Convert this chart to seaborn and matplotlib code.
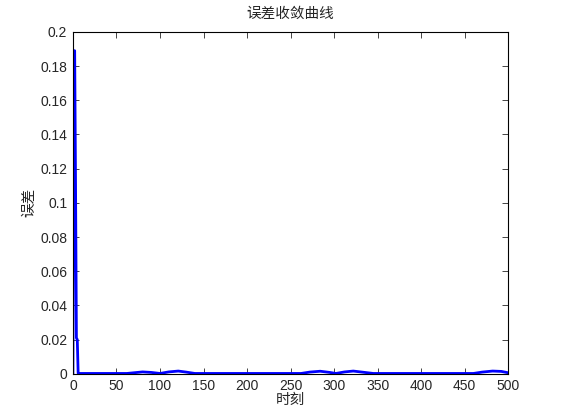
import matplotlib
matplotlib.use("Agg")
import matplotlib.pyplot as plt
import seaborn as sns
import pandas as pd

# sampled error curve (time step, error)
t_vals = [0, 1, 2, 3, 4, 5, 6, 8, 62, 70, 80, 90, 100, 110, 121, 130, 140,
          262, 272, 284, 295, 302, 312, 322, 332, 345,
          460, 470, 482, 492, 500]
e_vals = [0.0, 0.189, 0.189, 0.111, 0.021, 0.020, 0.0003, 0.0002,
          0.0002, 0.0006, 0.0011, 0.0008, 0.0002, 0.0011, 0.0016, 0.0010, 0.0002,
          0.0002, 0.0010, 0.0015, 0.0008, 0.0002, 0.0011, 0.0016, 0.0010, 0.0002,
          0.0002, 0.0010, 0.0016, 0.0014, 0.0006]
x_ticks = [0, 50, 100, 150, 200, 250, 300, 350, 400, 450, 500]
y_ticks = [0, 0.02, 0.04, 0.06, 0.08, 0.1, 0.12, 0.14, 0.16, 0.18, 0.2]
y_tick_labels = ["0", "0.02", "0.04", "0.06", "0.08", "0.1", "0.12", "0.14", "0.16", "0.18", "0.2"]
title = "误差收敛曲线"
x_label = "时刻"
y_label = "误差"

sns.set_style("ticks")
plt.rcParams['font.family'] = ['Liberation Sans', 'Noto Sans CJK SC', 'DejaVu Sans']

df = pd.DataFrame({"t": t_vals, "e": e_vals})

fig = plt.figure(figsize=(5.61, 4.20), dpi=100)
ax = fig.add_axes([0.130, 0.110, 0.776, 0.814])
sns.lineplot(data=df, x="t", y="e", ax=ax, color="#0000ff", linewidth=2.0)

ax.set_xlim(0, 500)
ax.set_ylim(0, 0.2)
ax.set_xticks(x_ticks)
ax.set_yticks(y_ticks)
ax.set_yticklabels(y_tick_labels)
ax.tick_params(direction="in", top=True, right=True, length=4, width=0.6,
               labelsize=10, pad=4)
for s in ax.spines.values():
    s.set_visible(True)
    s.set_linewidth(0.8)
    s.set_color("black")

ax.set_title(title, fontsize=10.5, family=['Noto Sans CJK SC'], pad=10)
ax.set_xlabel(x_label, fontsize=10.5, family=['Noto Sans CJK SC'], labelpad=0)
ax.set_ylabel(y_label, fontsize=10.5, family=['Noto Sans CJK SC'], labelpad=3)

fig.savefig("out.png", dpi=100, facecolor="white")
